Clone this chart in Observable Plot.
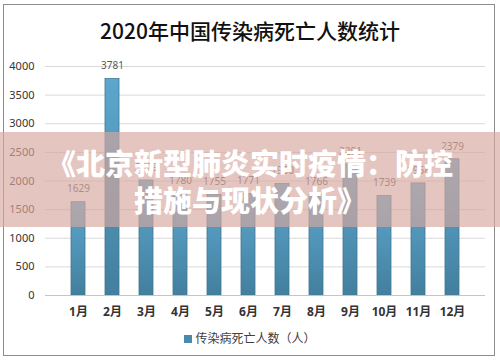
<!DOCTYPE html>
<html><head><meta charset="utf-8">
<script src="https://cdn.jsdelivr.net/npm/d3@7"></script>
<script src="https://cdn.jsdelivr.net/npm/@observablehq/plot@0.6"></script>
<style>
body{margin:0;background:#fff;}
#wrap{position:relative;width:500px;height:361px;overflow:hidden;font-family:"Noto Sans CJK SC","Noto Sans",sans-serif;background:#fff;}
#frame{position:absolute;left:3px;top:4px;width:492px;height:352px;border:1px solid #8c8c8c;box-sizing:border-box;}
#title{position:absolute;top:15px;left:0;width:500px;text-align:center;font-size:21px;line-height:30px;color:#111;font-weight:500;}
#chart{position:absolute;top:50px;left:0;}
#legend{position:absolute;top:329px;left:0;width:500px;text-align:center;font-size:12px;line-height:18px;color:#404040;}
#legend .sw{display:inline-block;width:8px;height:8px;background:#4a8aaa;margin-right:3px;vertical-align:middle;position:relative;top:-1px;}
#banner{position:absolute;left:0;top:132px;width:500px;height:95px;background:rgba(215,167,158,0.66);box-sizing:border-box;padding-top:12px;text-align:center;color:#fff;font-weight:900;font-size:29px;line-height:37px;}
</style></head>
<body>
<div id="wrap">
  <div id="frame"></div>
  <div id="title"></div>
  <div id="chart"></div>
  <div id="legend"></div>
  <div id="banner"></div>
</div>
<script>
const chartTitle = "2020年中国传染病死亡人数统计";
const seriesName = "传染病死亡人数（人）";
const bannerLines = ["《北京新型肺炎实时疫情：防控", "措施与现状分析》"];
const months = ["1月","2月","3月","4月","5月","6月","7月","8月","9月","10月","11月","12月"];
const deaths = [1629, 3781, 2009, 1780, 1755, 1771, 1950, 1766, 2291, 1739, 1958, 2379];
const yTicks = [0, 500, 1000, 1500, 2000, 2500, 3000, 3500, 4000];

const data = months.map((m, i) => ({month: m, value: deaths[i]}));

document.getElementById("title").textContent = chartTitle;
document.getElementById("legend").innerHTML = '<span class="sw"></span>' + seriesName;
document.getElementById("banner").innerHTML = bannerLines.join("<br>");

const svg = Plot.plot({
  width: 500,
  height: 275,
  marginTop: 16,
  marginBottom: 30,
  marginLeft: 45,
  marginRight: 15,
  style: {fontFamily: "'Noto Sans', 'Noto Sans CJK SC', sans-serif", fontSize: "11px", color: "#333", background: "transparent"},
  x: {domain: months, padding: 0.59, label: null},
  y: {domain: [0, 4000], label: null},
  marks: [
    Plot.gridY(yTicks, {stroke: "#d9d9d9", strokeOpacity: 1}),
    Plot.barY(data, {x: "month", y: "value", fill: "url(#barGrad)", stroke: "#3f7893", strokeWidth: 0.8}),
    Plot.ruleY([0], {stroke: "#c4c4c4"}),
    Plot.text(data, {x: "month", y: "value", text: d => String(d.value), dy: -13, fill: "#595959", fontSize: 10}),
    Plot.axisX({tickSize: 0, tickPadding: 12, fontSize: 12, fontWeight: "bold", fill: "#333", label: null}),
    Plot.axisY(yTicks, {tickSize: 0, tickPadding: 11, fontSize: 11, fill: "#333", label: null, tickFormat: d => String(d)})
  ]
});

const defs = d3.select(svg).insert("defs", ":first-child");
const grad = defs.append("linearGradient").attr("id", "barGrad")
  .attr("x1", 0).attr("y1", 0).attr("x2", 0).attr("y2", 1);
grad.append("stop").attr("offset", "0%").attr("stop-color", "#5ca7ce");
grad.append("stop").attr("offset", "100%").attr("stop-color", "#437f9e");

document.getElementById("chart").appendChild(svg);
</script>
</body></html>
